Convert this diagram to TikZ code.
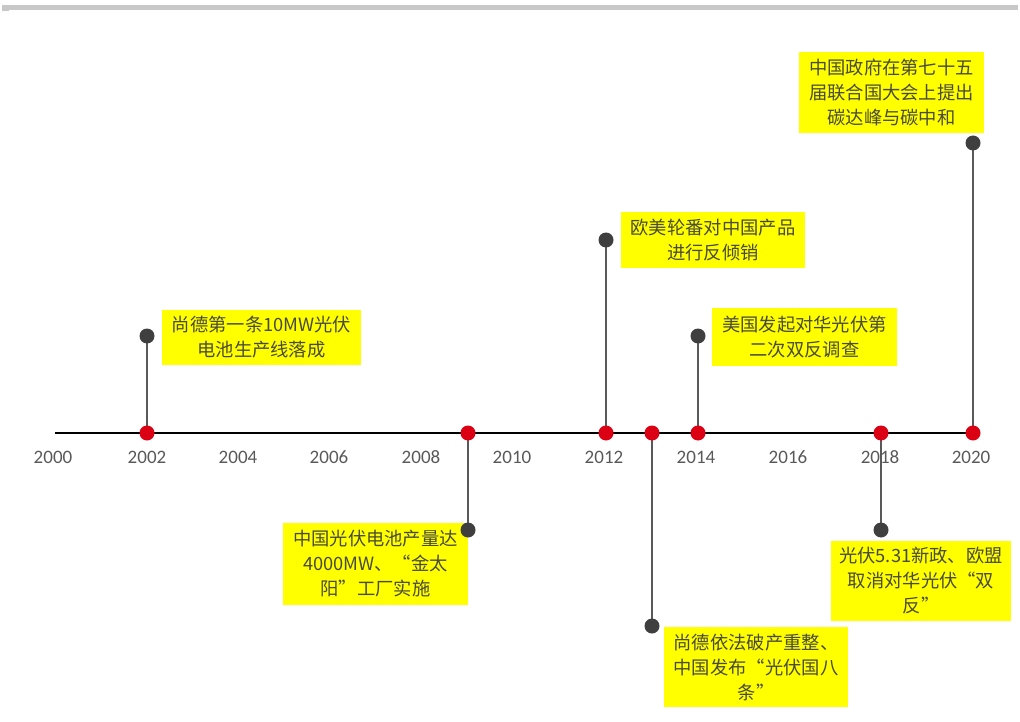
\documentclass[tikz,border=0pt]{standalone}
\usepackage{fontspec}
\setmainfont{Carlito}
\newfontfamily\cjk{Noto Sans CJK SC}
\definecolor{axisgray}{HTML}{595959}
\definecolor{txtgray}{HTML}{4A4A3A}
\definecolor{dotred}{HTML}{DC0014}
\definecolor{dotdark}{HTML}{3F3F3F}
\definecolor{bargray}{HTML}{C8C8C8}
\definecolor{boxyellow}{HTML}{FFFF00}
\tikzset{
  yearlbl/.style={text=axisgray, font=\fontsize{19}{22}\selectfont, inner sep=0pt},
  reddot/.style={circle, fill=dotred, minimum size=15pt, inner sep=0pt},
  darkdot/.style={circle, fill=dotdark, minimum size=15pt, inner sep=0pt},
  stem/.style={draw=axisgray, line width=2pt},
  eventbox/.style={fill=boxyellow, text=txtgray, align=center, inner sep=0pt,
    font=\cjk\fontsize{18.3}{25}\selectfont},
}
\begin{document}
\begin{tikzpicture}[x=1pt, y=-1pt]
\useasboundingbox (0,0) rectangle (1020,722);
\fill[bargray] (2,5) rectangle (1018,10);
\node[fill=bargray, minimum width=7pt, minimum height=1pt, inner sep=0pt, anchor=north west] (barL) at (2,10) {};
% axis
\coordinate (a0) at (55,433);
\coordinate (a1) at (975,433);
\draw[line width=2pt, black] (a0) -- (a1);
% year labels
\foreach \yr/\xx in {2000/53,2002/147,2004/238,2006/329,2008/421,2010/512,2012/604,2014/696,2016/788,2018/880,2020/971}{
  \node[yearlbl] (y\yr) at (\xx,457) {\yr};
}
% event points
\foreach \n/\xx/\yy in {02/147/336, 09/468/530, 12/606/240, 13/652/626, 14/698/336, 18/881/530, 20/973/143}{
  \coordinate (p\n) at (\xx,433);
  \coordinate (q\n) at (\xx,\yy);
  \draw[stem] (p\n) -- (q\n);
}
% boxes
\node[eventbox, minimum width=199pt, minimum height=55pt] (b02) at (261.5,337.5) {尚德第一条10MW光伏\\电池生产线落成};
\node[eventbox, minimum width=185pt, minimum height=82pt] (b09) at (375.5,564) {中国光伏电池产量达\\4000MW、“金太\\阳”工厂实施};
\node[eventbox, minimum width=184pt, minimum height=56pt] (b12) at (713,240) {欧美轮番对中国产品\\进行反倾销};
\node[eventbox, minimum width=185pt, minimum height=58pt] (b14) at (804.5,337) {美国发起对华光伏第\\二次双反调查};
\node[eventbox, minimum width=184pt, minimum height=80pt] (b13) at (756,667) {尚德依法破产重整、\\中国发布“光伏国八\\条”};
\node[eventbox, minimum width=180pt, minimum height=80pt] (b18) at (921,581) {光伏5.31新政、欧盟\\取消对华光伏“双\\反”};
\node[eventbox, minimum width=185pt, minimum height=81pt] (b20) at (891.5,92.5) {中国政府在第七十五\\届联合国大会上提出\\碳达峰与碳中和};
% dots
\foreach \n in {02,09,12,13,14,18,20}{
  \node[reddot] (r\n) at (p\n) {};
  \node[darkdot] (d\n) at (q\n) {};
}
\end{tikzpicture}
\end{document}
